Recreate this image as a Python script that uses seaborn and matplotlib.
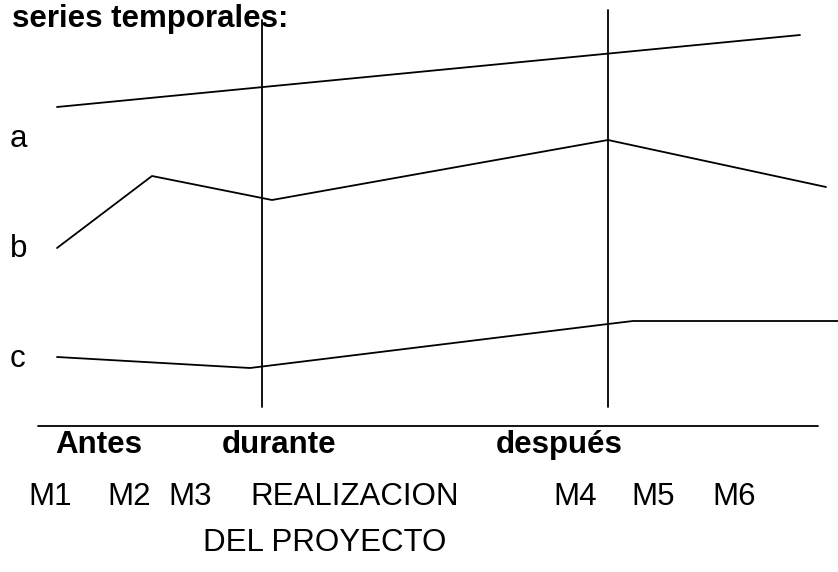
import numpy as np
import pandas as pd
import matplotlib
matplotlib.use("Agg")
import matplotlib.pyplot as plt
import seaborn as sns

# Series (x position along the timeline, vertical level in image units; 0 = top)
serie_a_x = [57, 800]
serie_a_y = [107, 35]
serie_b_x = [57, 152, 272, 608, 826]
serie_b_y = [248, 176, 200, 140, 187]
serie_c_x = [57, 250, 608, 633, 838]
serie_c_y = [357, 368, 324, 321, 321]

# Phase separators and time axis
separadores_x = [262, 608]
separadores_top = [20, 10]
separadores_bottom = [407, 407]
eje_x = [38, 818]
eje_y = [426, 426]

series_labels = ["a", "b", "c"]
series_label_y = [147, 257, 367]
fases = ["Antes", "durante", "después"]
fases_x = [55, 222, 496]
mediciones = ["M1", "M2", "M3", "REALIZACION", "M4", "M5", "M6"]
mediciones_x = [28, 107, 168, 250, 553, 631, 712]

sns.set_theme(style="white")
plt.rcParams["font.family"] = ["Liberation Sans", "DejaVu Sans"]
plt.rcParams["text.color"] = "black"

fig = plt.figure(figsize=(8.38, 5.72), dpi=100)
ax = fig.add_axes([0, 0, 1, 1])

lw = 1.3
for name, xs, ys in [("a", serie_a_x, serie_a_y),
                     ("b", serie_b_x, serie_b_y),
                     ("c", serie_c_x, serie_c_y)]:
    df = pd.DataFrame({"x": xs, "y": ys})
    sns.lineplot(data=df, x="x", y="y", sort=False, estimator=None,
                 color="black", linewidth=lw, ax=ax)

for x, t, b in zip(separadores_x, separadores_top, separadores_bottom):
    ax.plot([x, x], [t, b], color="black", linewidth=lw)
ax.plot(eje_x, eje_y, color="black", linewidth=lw)

fs = 22.5
ax.text(12, 27, "series temporales:", fontsize=fs, fontweight="bold",
        va="baseline", color="black")
for lab, y in zip(series_labels, series_label_y):
    ax.text(10, y, lab, fontsize=fs, va="baseline", color="black")
for lab, x in zip(fases, fases_x):
    ax.text(x, 453, lab, fontsize=fs, fontweight="bold", va="baseline", color="black")
for lab, x in zip(mediciones, mediciones_x):
    ax.text(x, 505, lab, fontsize=fs, va="baseline", color="black")
ax.text(203, 551, "DEL PROYECTO", fontsize=fs, va="baseline", color="black")

ax.set_xlim(0, 838)
ax.set_ylim(572, 0)
ax.axis("off")

fig.savefig("out.png", dpi=100)
